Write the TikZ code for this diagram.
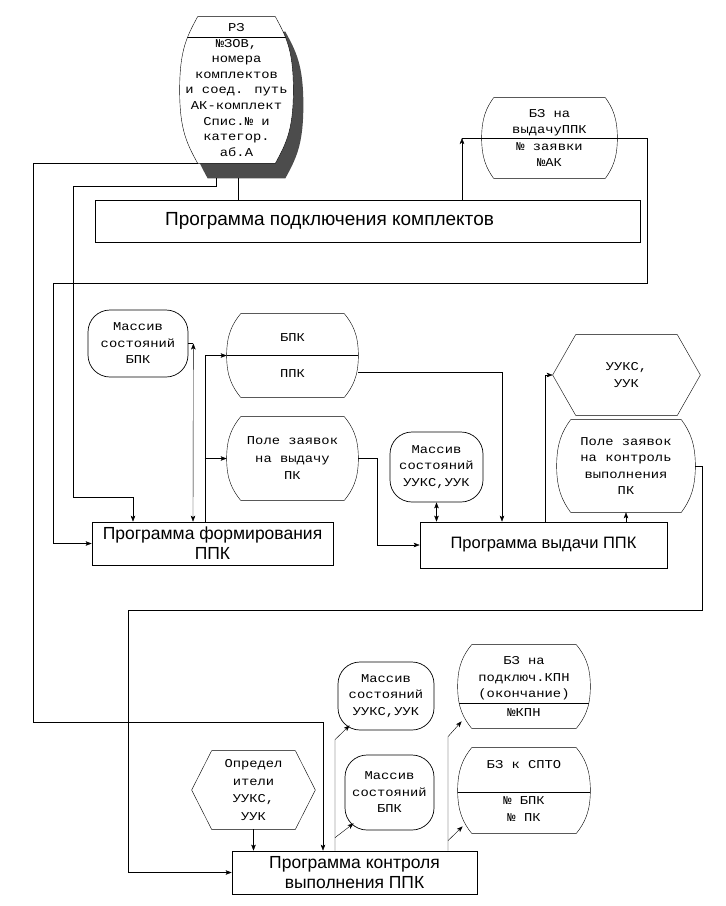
\documentclass[tikz,border=0pt]{standalone}
\usepackage{fontspec}
\setsansfont{Liberation Sans}
\newfontfamily\typewr[FakeStretch=1.15]{Liberation Mono}
\usetikzlibrary{arrows.meta,backgrounds}

% barrel outline round a node (#2 = how far the flat ends are set in,
% #3 = how far the sides keep upright)
\newcommand\barrelpath[3]{([xshift=#2]#1.north west) -- ([xshift=-#2]#1.north east)
  .. controls ([xshift=-0.4*#2,yshift=-0.5*#3]#1.north east) and ([yshift=#3]#1.east) .. (#1.east)
  .. controls ([yshift=-#3]#1.east) and ([xshift=-0.4*#2,yshift=0.5*#3]#1.south east) .. ([xshift=-#2]#1.south east)
  -- ([xshift=#2]#1.south west)
  .. controls ([xshift=0.4*#2,yshift=0.5*#3]#1.south west) and ([yshift=-#3]#1.west) .. (#1.west)
  .. controls ([yshift=#3]#1.west) and ([xshift=0.4*#2,yshift=-0.5*#3]#1.north west) .. ([xshift=#2]#1.north west)
  -- cycle}
\newcommand\barrel[3]{\draw \barrelpath{#1}{#2}{#3};}
\newcommand\barrelline[4]{\begin{scope}\clip \barrelpath{#1}{#2}{#3};
  \draw ([yshift=#4]#1.west) -- ([yshift=#4]#1.east);\end{scope}}
\newcommand\hexa[2]{\draw (#1.west) -- ([xshift=#2]#1.north west) -- ([xshift=-#2]#1.north east)
  -- (#1.east) -- ([xshift=-#2]#1.south east) -- ([xshift=#2]#1.south west) -- cycle;}

\begin{document}
\begin{tikzpicture}[x=1pt,y=-1pt,>={Stealth[length=6pt,width=4.5pt,inset=1.5pt]},line width=0.7pt,
        prog/.style={draw,rectangle,inner sep=2pt,align=center,
          font=\sffamily\fontsize{17.5}{20}\selectfont},
        store/.style={inner sep=0pt,align=center,
          font=\typewr\fontsize{12}{16.5}\selectfont},
        mass/.style={store,draw,rounded corners=22pt}]

  \useasboundingbox (0,0) rectangle (726,906);

  % stores
  \node[store,minimum width=113pt,minimum height=146pt,
        font=\typewr\fontsize{12}{15.6}\selectfont] (rz) at (236.5,90)
        {РЗ\\№ЗОВ,\\номера\\комплектов\\и соед. путь\\АК-комплект\\Спис.№ и\\категор.\\аб.А};
  \node[store,minimum width=135pt,minimum height=80pt] (bzv) at (549.5,138)
        {БЗ на\\выдачуППК\\№ заявки\\№АК};
  \node[mass,minimum width=100pt,minimum height=67pt] (mbpk) at (138,343.5)
        {Массив\\состояний\\БПК};
  \node[store,minimum width=131pt,minimum height=83pt] (bpk) at (292.5,355.5)
        {БПК\\[20pt]ППК};
  \node[store,minimum width=131pt,minimum height=83pt,
        font=\typewr\fontsize{12}{17.5}\selectfont] (pzv) at (292.5,458.5)
        {Поле заявок\\на выдачу\\ПК};
  \node[mass,minimum width=93pt,minimum height=70pt] (muuk) at (436.5,467)
        {Массив\\состояний\\УУКС,УУК};
  \node[store,minimum width=147pt,minimum height=80pt] (hexu) at (626.5,375)
        {УУКС,\\УУК};
  \node[store,minimum width=138pt,minimum height=92pt] (pzk) at (626,466)
        {Поле заявок\\на контроль\\выполнения\\ПК};
  \node[mass,minimum width=96pt,minimum height=68pt] (muuk2) at (386,696)
        {Массив\\состояний\\УУКС,УУК};
  \node[mass,minimum width=89pt,minimum height=75pt] (mbpk2) at (389.5,792.5)
        {Массив\\состояний\\БПК};
  \node[store,minimum width=132pt,minimum height=83pt] (bzk) at (524,686.5)
        {БЗ на\\подключ.КПН\\(окончание)\\[2pt]№КПН};
  \node[store,minimum width=132pt,minimum height=85pt] (bzs) at (524,790.5)
        {БЗ к СПТО\\[20pt]№ БПК\\№ ПК};
  \node[store,minimum width=123pt,minimum height=78pt,
        font=\typewr\fontsize{12}{17.5}\selectfont] (opr) at (253.5,790)
        {Определ\\ители\\УУКС,\\УУК};

  % programs
  \node[prog,minimum width=545pt,minimum height=42pt,
        label={[font=\sffamily\fontsize{19}{21}\selectfont,xshift=-38pt]center:Программа подключения комплектов}]
        (podkl) at (367.5,221) {};
  \node[prog,minimum width=241pt,minimum height=43pt] (form) at (212.5,543.5)
        {Программа формирования\\ППК};
  \node[prog,minimum width=247pt,minimum height=46pt,
        font=\sffamily\fontsize{16.5}{19}\selectfont] (vyd) at (543.5,545)
        {Программа выдачи ППК};
  \node[prog,minimum width=245pt,minimum height=43pt] (kontr) at (354.5,872.5)
        {Программа контроля\\выполнения ППК};

  % outlines
  \begin{pgfonlayer}{background}
    \fill[white] (0,0) rectangle (726,906);
    \begin{scope}[transform canvas={xshift=10pt,yshift=-15pt}]
      \fill[black!70] \barrelpath{rz}{18pt}{40pt};
    \end{scope}
    \fill[white] \barrelpath{rz}{18pt}{40pt};
  \end{pgfonlayer}
  \barrel{rz}{18pt}{40pt}
  \barrelline{rz}{18pt}{40pt}{53pt}
  \barrel{bzv}{12pt}{20pt}
  \barrel{bpk}{14pt}{21pt}
  \barrelline{bpk}{14pt}{21pt}{0pt}
  \barrel{pzv}{14pt}{21pt}
  \barrel{pzk}{14pt}{23pt}
  \barrel{bzk}{14pt}{21pt}
  \barrelline{bzk}{14pt}{21pt}{-16.5pt}
  \barrel{bzs}{14pt}{21pt}
  \barrelline{bzs}{14pt}{21pt}{-1.5pt}
  \hexa{hexu}{23pt}
  \hexa{opr}{20pt}

  % connectors
  \draw[->] ([xshift=18pt]rz.south west) -| (33,722) -| ([xshift=-31.5pt]kontr.north);
  \draw[->] ([xshift=37pt,yshift=-15pt]rz.south west) -- ++(0,8) -| (73,497)
        -| ([xshift=-79.5pt]form.north);
  \draw ([xshift=2pt,yshift=-15pt]rz.south) -- ([xshift=-129pt]podkl.north);
  \draw[->] ([xshift=94.5pt]podkl.north) -- ([xshift=-87.5pt]bzv.center);
  \draw[->] ([xshift=-87.5pt]bzv.center) -- ([xshift=97.5pt]bzv.center) |- (53,283) |- (form.west);

  \draw[<->] ([xshift=-19.5pt]form.north) -- ([xshift=5pt]mbpk.east);
  \draw ([xshift=5pt]mbpk.east) -- (mbpk.east);
  \draw[->] ([xshift=-7.5pt]form.north) |- (bpk.west);
  \draw[->] ([xshift=-22pt]pzv.west) -- (pzv.west);
  \draw[->] ([yshift=-16.5pt]bpk.east) -| ([xshift=-41.5pt]vyd.north);
  \draw[->] (pzv.east) -- ++(19,0) |- (vyd.west);

  \draw[<->] (muuk.south) -- (muuk.south |- vyd.north);
  \draw[->] ([xshift=1.5pt]vyd.north) |- (hexu.west);
  \draw[->] (pzk.south |- vyd.north) -- (pzk.south);
  \draw[->] (pzk.east) -- ++(7,0) |- (128,610) |- (kontr.west);

  \draw[->] (opr.south) -- (opr.south |- kontr.north);
  \draw[->] ([xshift=-19.5pt]kontr.north) -- ++(0,-111) -- ([xshift=12pt,yshift=5pt]muuk2.south west);
  \draw[->] ([xshift=-19.5pt,yshift=13pt]kontr.north) -- ([xshift=9pt,yshift=7pt]mbpk2.south west);
  \draw[->] ([xshift=93.5pt]kontr.north) -- ++(0,-114) -- ([xshift=4pt,yshift=7pt]bzk.south west);
  \draw[->] ([xshift=93.5pt,yshift=10pt]kontr.north) -- ([xshift=5pt,yshift=7pt]bzs.south west);
\end{tikzpicture}
\end{document}
